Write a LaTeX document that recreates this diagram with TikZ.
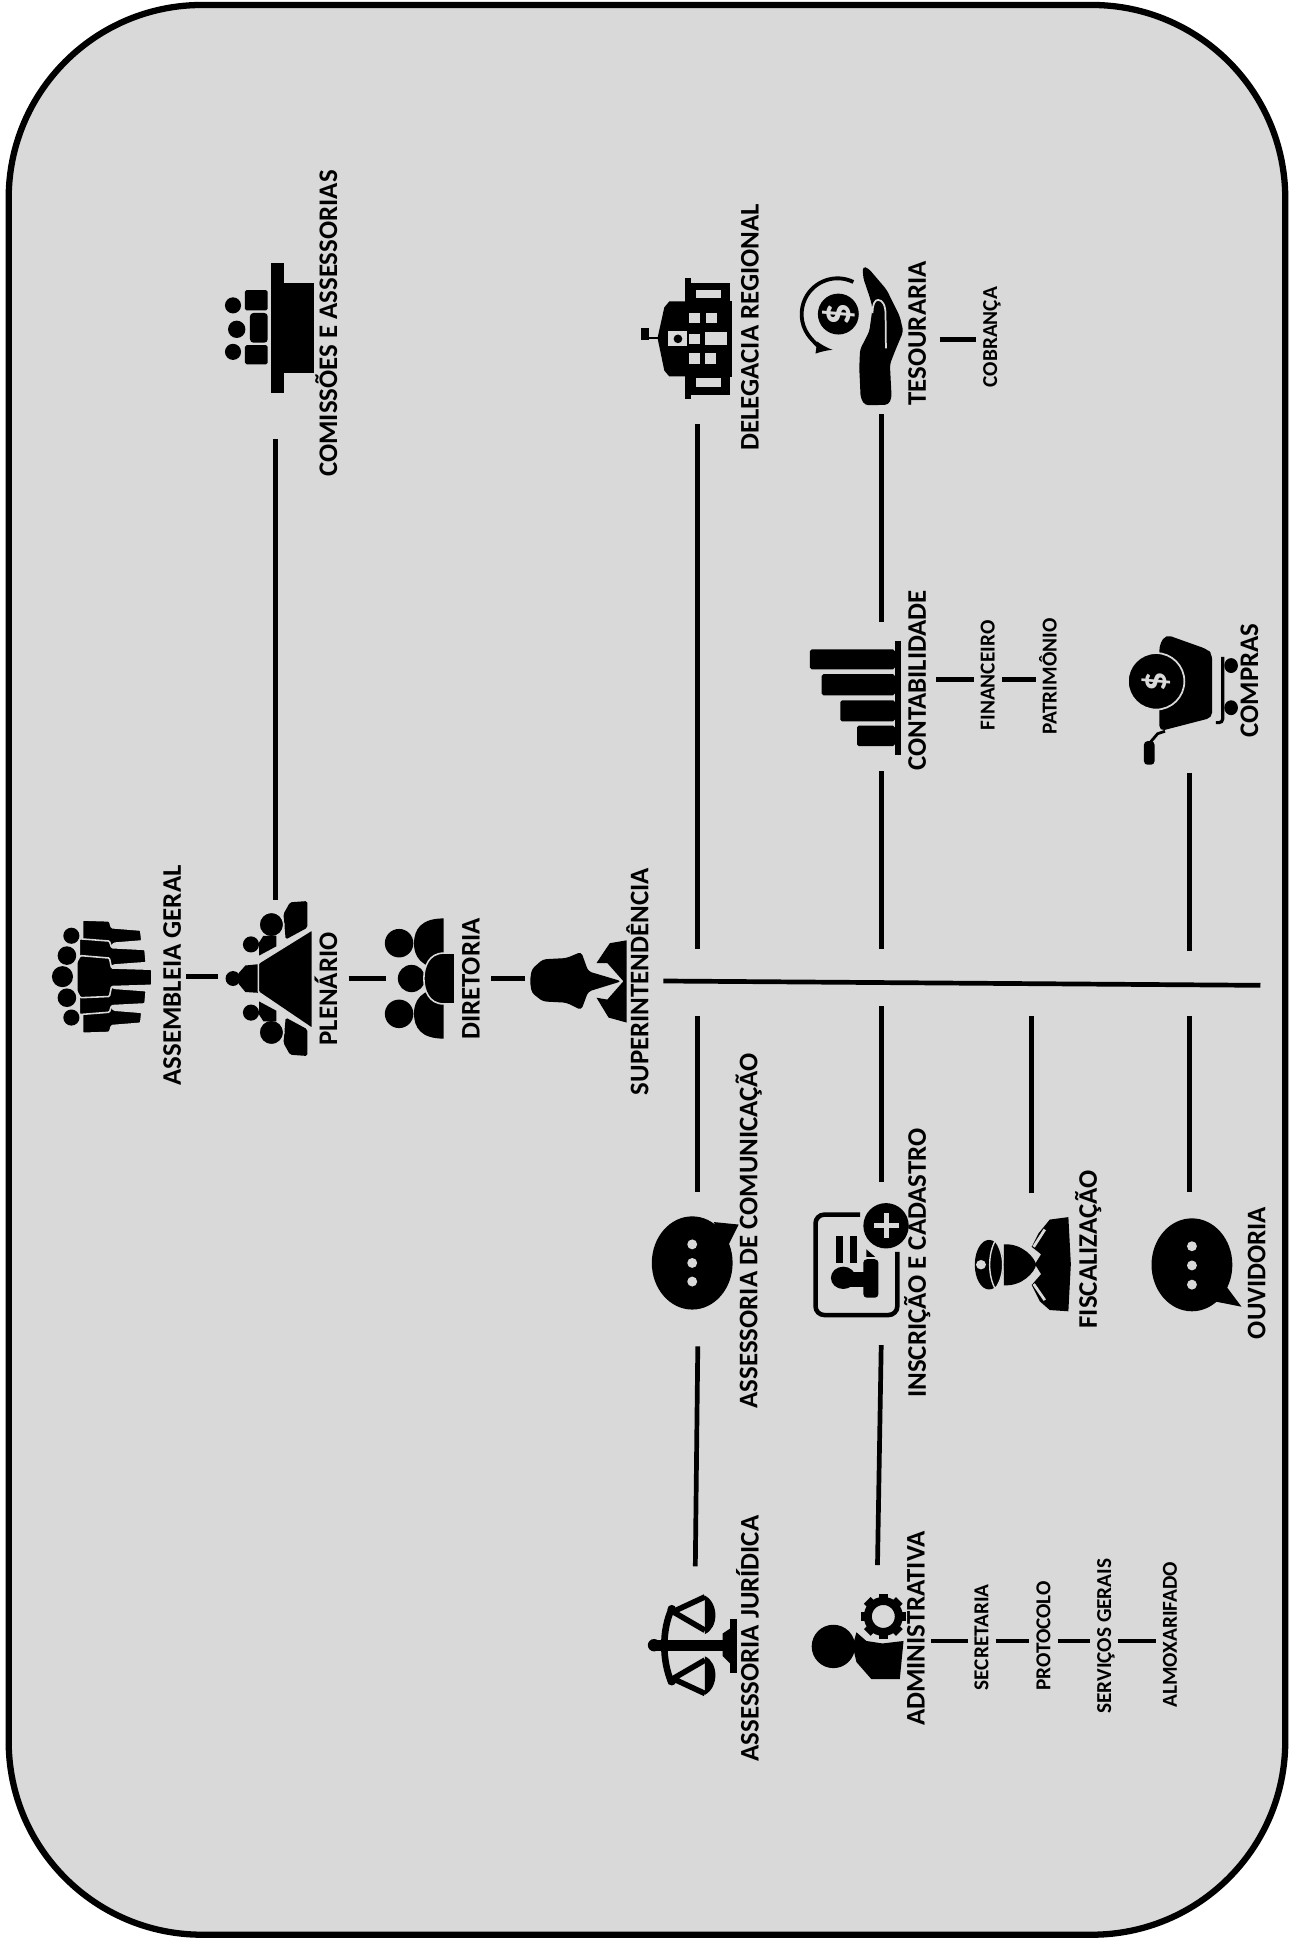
\documentclass[tikz,border=0pt]{standalone}
\usepackage{fontspec}
\setmainfont{Carlito}
\definecolor{fundo}{HTML}{D9D9D9}
\tikzset{
	moldura/.style={draw=black,fill=fundo,line width=3.6pt,rounded corners=3.9cm},
	linha/.style={draw=black,line width=2.7pt},
	caixa/.style 2 args={minimum width=#1*.025cm,minimum height=#2*.025cm,inner sep=0pt},
	rotulo/.style={rotate=90,inner xsep=0pt,inner ysep=0pt,text height=10pt,text depth=0pt,font=\bfseries\fontsize{15.4}{16}\selectfont},
	rotulop/.style={rotate=90,inner xsep=0pt,inner ysep=4pt,text height=7.8pt,text depth=0pt,font=\bfseries\fontsize{12.2}{12}\selectfont},
	preto/.style={fill=black},
	claro/.style={fill=fundo},
	recorte/.style={fill=black,draw=fundo,line width=.9pt,rounded corners=.6pt},
	traco/.style={draw=fundo,line width=1pt}
}
\begin{document}
\begin{tikzpicture}[x=.025cm,y=-.025cm]
	\useasboundingbox (0,0) rectangle (1040,1568.5);
	\draw[moldura] (7,4) rectangle (1037,1561);

	\node[caixa={108}{80}] (assembleia) at (96,788) {};
	\node[caixa={105}{126}] (plenario) at (228.5,789.5) {};
	\node[caixa={84}{98}] (diretoria) at (354,789.5) {};
	\node[caixa={111}{70}] (superint) at (479.5,791.5) {};
	\node[caixa={84}{142}] (comissoes) at (222,283) {};
	\node[caixa={80}{118}] (delegacia) at (563,283) {};
	\node[caixa={94}{120}] (tesouraria) at (711,274) {};
	\node[caixa={80}{120}] (contabilidade) at (711,562) {};
	\node[caixa={80}{111}] (compras) at (960,567.5) {};
	\node[caixa={80}{124}] (comunicacao) at (563,1024) {};
	\node[caixa={80}{131}] (inscricao) at (711,1019.5) {};
	\node[caixa={80}{100}] (fiscalizacao) at (832,1013) {};
	\node[caixa={80}{100}] (ouvidoria) at (960,1012) {};
	\node[caixa={80}{124}] (juridica) at (561,1326) {};
	\node[caixa={86}{122}] (administrativa) at (708,1324) {};

	\node[rotulo] (tAssembleia) at (139,787) {ASSEMBLEIA GERAL};
	\node[rotulo] (tPlenario) at (265,798) {PLENÁRIO};
	\node[rotulo] (tDiretoria) at (380,790) {DIRETORIA};
	\node[rotulo] (tSuperint) at (516,792) {SUPERINTENDÊNCIA};
	\node[rotulo] (tComissoes) at (265,261) {COMISSÕES E ASSESSORIAS};
	\node[rotulo] (tDelegacia) at (605,264) {DELEGACIA REGIONAL};
	\node[rotulo] (tTesouraria) at (740,269) {TESOURARIA};
	\node[rotulo] (tContabilidade) at (740,549) {CONTABILIDADE};
	\node[rotulo] (tCompras) at (1008,549) {COMPRAS};
	\node[rotulo] (tComunicacao) at (604,993) {ASSESSORIA DE COMUNICAÇÃO};
	\node[rotulo] (tInscricao) at (740,1019) {INSCRIÇÃO E CADASTRO};
	\node[rotulo] (tFiscalizacao) at (878,1008) {FISCALIZAÇÃO};
	\node[rotulo] (tOuvidoria) at (1014,1027) {OUVIDORIA};
	\node[rotulo] (tJuridica) at (605,1322) {ASSESSORIA JURÍDICA};
	\node[rotulo] (tAdministrativa) at (739,1314) {ADMINISTRATIVA};
	\node[rotulop] (cobranca) at (799,272) {COBRANÇA};
	\node[rotulop] (financeiro) at (797,545) {FINANCEIRO};
	\node[rotulop] (patrimonio) at (847,546) {PATRIMÔNIO};
	\node[rotulop] (secretaria) at (792,1321) {SECRETARIA};
	\node[rotulop] (protocolo) at (842,1320) {PROTOCOLO};
	\node[rotulop] (servicos) at (891,1320) {SERVIÇOS GERAIS};
	\node[rotulop] (almoxarifado) at (944,1319) {ALMOXARIFADO};

	\coordinate (fimEixo) at (1017,795);
	\coordinate (pDelegacia) at (563,766);
	\coordinate (pComunicacao) at (563,820);
	\coordinate (pContabilidade) at (711,766);
	\coordinate (pInscricao) at (711,812);
	\coordinate (pFiscalizacao) at (832,820);
	\coordinate (pCompras) at (960,767);
	\coordinate (pOuvidoria) at (960,820);
	\coordinate (lContabilidade) at (755,548);

	\draw[linha] (assembleia.east) -- (assembleia.east -| plenario.west);
	\draw[linha] (plenario.east) -- (diretoria.west);
	\draw[linha] (diretoria.east) -- (diretoria.east -| superint.west);
	\draw[linha] (superint.east) -- (fimEixo);
	\draw[linha] (comissoes.south) -- (comissoes.south |- plenario.north);
	\draw[linha] (delegacia.south) -- (pDelegacia);
	\draw[linha] (comunicacao.north) -- (pComunicacao);
	\draw[linha] (comunicacao.south) -- (juridica.north);
	\draw[linha] (tesouraria.south) -- (contabilidade.north);
	\draw[linha] (contabilidade.south) -- (pContabilidade);
	\draw[linha] (inscricao.north) -- (pInscricao);
	\draw[linha] (inscricao.south) -- (administrativa.north);
	\draw[linha] (fiscalizacao.north) -- (pFiscalizacao);
	\draw[linha] (compras.south) -- (pCompras);
	\draw[linha] (ouvidoria.north) -- (pOuvidoria);
	\draw[linha] (tesouraria.east) -- (tesouraria.east -| cobranca.north);
	\draw[linha] (lContabilidade) -- (lContabilidade -| financeiro.north);
	\draw[linha] (lContabilidade -| financeiro.south) -- (lContabilidade -| patrimonio.north);
	\draw[linha] (administrativa.east) -- (administrativa.east -| secretaria.north);
	\draw[linha] (administrativa.east -| secretaria.south) -- (administrativa.east -| protocolo.north);
	\draw[linha] (administrativa.east -| protocolo.south) -- (administrativa.east -| servicos.north);
	\draw[linha] (administrativa.east -| servicos.south) -- (administrativa.east -| almoxarifado.north);

	\foreach \s in {1,-1} {
		\begin{scope}[shift={(0,788)},yscale=\s]
			\fill[preto] (57.6,-33) circle[radius=6.5];
			\fill[preto] (54,-17) circle[radius=7.5];
			\draw[recorte] (66.6,-45.7) -- (88.3,-45) -- (90,-39.5) -- (113.5,-37.6) -- (114.5,-28.8) -- (92,-27) -- (86.5,-20.7) -- (66.6,-16.6) -- cycle;
			\draw[recorte] (64,-30.6) -- (88.3,-28.7) -- (90,-23.4) -- (117,-22) -- (118,-11.3) -- (92,-9.4) -- (86.5,-6) -- (64,-3) -- cycle;
		\end{scope}
	}
	\fill[preto] (50.4,788) circle[radius=8.5];
	\draw[recorte] (62,776) -- (64.8,771) -- (88.3,773) -- (90,781) -- (122.5,782) -- (122.5,795) -- (90,796) -- (88.3,804) -- (64.8,805) -- (62,800) -- cycle;

	\foreach \s in {1,-1} {
		\begin{scope}[shift={(0,789.5)},yscale=\s]
			\fill[preto,rounded corners=1pt] (228.7,-52) -- (234,-61.5) -- (248,-62.5) -- (248,-41) -- (230.5,-31.5) -- cycle;
			\draw[recorte] (219,-43.5) circle[radius=10];
			\fill[preto] (209,-18.5) -- (209,-29) -- (212.5,-34.5) -- (223,-34.5) -- (223,-26) -- cycle;
			\fill[preto] (202.5,-27.5) circle[radius=6.5];
		\end{scope}
	}
	\fill[preto] (188,789.5) circle[radius=6];
	\fill[preto] (192.7,785) -- (198,779) -- (208,778) -- (208,801) -- (198,800.4) -- (192.7,794) -- cycle;
	\draw[recorte] (208.5,777) -- (252,750) -- (252,830) -- (208.5,800.5) -- cycle;

	\foreach \s in {1,-1} {
		\begin{scope}[shift={(0,789.5)},yscale=\s]
			\fill[preto] (322,-28.5) circle[radius=11.5];
			\fill[preto] (358,-48.5) .. controls (340,-48.5) and (334,-40) .. (334,-28) .. controls (334,-18) and (340,-8) .. (358,-8) -- cycle;
		\end{scope}
	}
	\fill[preto] (332,789.5) circle[radius=11];
	\draw[fill=black,draw=fundo,line width=.9pt] (367,769) -- (358,769) .. controls (346,769) and (342,780) .. (342,789.5) .. controls (342,799) and (346,810) .. (358,810) -- (367,810) -- cycle;

	\fill[preto,rounded corners=2pt] (427.6,791.7) -- (429,782) -- (438,774) -- (457,773) -- (469,768) -- (474.6,783.7) -- (501.5,791.7) -- (474.6,800) -- (469,815) -- (457,809) -- (438,808) -- (429,801) -- cycle;
	\fill[preto] (505.5,758.7) -- (492,761) -- (481.3,777) -- (490,777) -- (503,791.7) -- (490,806.5) -- (481.3,805) -- (491,821) -- (505.5,825) -- cycle;

	\fill[preto] (219,212) rectangle (229,317);
	\fill[preto] (229,228.6) rectangle (253,301);
	\fill[preto,rounded corners=1pt] (197.6,234) rectangle (216,250.5);
	\fill[preto,rounded corners=1pt] (197.6,278.5) rectangle (216,294);
	\fill[preto,rounded corners=2pt] (201.7,252.5) -- (216,252.5) -- (216,276.5) -- (201.7,276.5) -- cycle;
	\fill[preto] (188,246.4) circle[radius=6.5];
	\fill[preto] (191,265.7) circle[radius=7];
	\fill[preto] (188,283.9) circle[radius=6.5];

	\fill[preto] (552.4,224.4) rectangle (557.7,322);
	\fill[preto] (557.7,228) rectangle (589,318.5);
	\fill[preto] (557.7,243) rectangle (591,304);
	\fill[preto] (553,243.2) -- (540,243.2) -- (536,248) -- (530.8,271.5) -- (530.8,274) -- (536,299) -- (540,303.7) -- (553,303.7) -- cycle;
	\fill[preto] (517.4,271.8) rectangle (531,273.8);
	\fill[preto] (517.4,264.7) rectangle (524,274);
	\foreach \xa/\ya/\xb/\yb in {561.8/233.8/582/240.5,555.8/252.7/564.5/260.7,569.3/252.7/578.4/260.7,568.8/268.2/586.5/278.5,555.8/269.3/565/277.4,555.8/285/565/293.5,568.8/285/578/293.5,561.8/305/582/312.3,539/267.4/554/279} {
		\fill[claro] (\xa,\ya) rectangle (\xb,\yb);
	}
	\fill[preto] (547,273.4) circle[radius=3.5];

	\fill[preto,rounded corners=2pt] (696,215) -- (700.6,216.4) -- (715.4,233.8) -- (726,255.3) -- (728.8,267.4) -- (722,283.6) -- (718,294) -- (719.4,321) -- (716.7,326.6) -- (697.9,327) -- (694.4,321) -- (693.3,297) -- (693.9,282) -- (701.4,267.4) -- (704,248.6) -- (702,240.5) -- (696.5,224.4) -- cycle;
	\draw[traco] (704,252.6) .. controls (704,245) and (706,242) .. (708.5,242) .. controls (712,242) and (714.5,246) .. (714.5,254) -- (714.8,281);
	\fill[preto] (676.4,253.4) circle[radius=16.5];
	\node[rotate=90,text=fundo,inner sep=0pt,font=\bfseries\fontsize{25}{25}\selectfont] (cifraoT) at (676.4,253.4) {\$};
	\draw[black,line width=2.2pt,-latex] (688.5,227.5) arc[start angle=-64,end angle=-262,radius=29];

	\fill[preto] (722,517) rectangle (727,609);
	\foreach \xa/\ya/\yb in {653.5/524/540,663/544/561,678/565/582,691.5/585.5/602} {
		\fill[preto,rounded corners=1pt] (\xa,\ya) rectangle (722,\yb);
	}

	\fill[preto,rounded corners=3pt] (935.5,520) -- (940.8,512) -- (974.4,524) -- (978,528) -- (978,579) -- (935.5,590) -- cycle;
	\draw[fill=black,draw=fundo,line width=1pt] (932.8,549.7) circle[radius=22.8];
	\node[rotate=90,text=fundo,inner sep=0pt,font=\bfseries\fontsize{22}{22}\selectfont] (cifraoC) at (932.8,549.7) {\$};
	\fill[preto] (993.3,537) ellipse[x radius=5.5,y radius=6];
	\fill[preto] (993.3,571) ellipse[x radius=5.5,y radius=6];
	\draw[black,line width=1.8pt,rounded corners=2pt] (986.5,530) -- (986.5,583) -- (981,583);
	\draw[black,line width=1.6pt] (940,590) -- (934,592) -- (928,599);
	\fill[preto,rounded corners=2pt] (923,598) rectangle (931.5,617);

	\fill[preto] (558.5,1019) ellipse[x radius=32.6,y radius=37.6];
	\fill[preto] (576,986) -- (596,988) -- (585,1010) -- cycle;
	\foreach \d in {1004,1019,1034} {\fill[claro] (558.5,\d) circle[radius=4];}

	\fill[preto] (961.7,1020.5) ellipse[x radius=32.6,y radius=37.5];
	\fill[preto] (985,1032) -- (1001.7,1054.3) -- (980,1050) -- cycle;
	\foreach \d in {1005.5,1021,1036.5} {\fill[claro] (961.7,\d) circle[radius=4];}

	\draw[black,line width=2.6pt,rounded corners=5pt] (694,980) -- (658,980) -- (658,1061) -- (724,1061) -- (724,1010);
	\fill[preto] (714.9,989) circle[radius=18.3];
	\fill[claro] (705,987) rectangle (725,991);
	\fill[claro] (712.9,979) rectangle (716.9,999);
	\fill[preto] (674.5,997.6) rectangle (680.5,1019);
	\fill[preto] (685.8,997.6) rectangle (691.7,1019);
	\fill[preto] (699,1008) -- (706,1014) -- (699,1014) -- cycle;
	\fill[preto] (680.4,1031) ellipse[x radius=10,y radius=9];
	\fill[preto] (685,1026) rectangle (698,1038);
	\fill[preto,rounded corners=2pt] (696.6,1016) rectangle (708.7,1047);

	\fill[preto] (798,1020.4) ellipse[x radius=11.5,y radius=20];
	\draw[traco,line width=.8pt] (803,1001) .. controls (797,1012) and (797,1029) .. (803,1040);
	\draw[traco,line width=.8pt] (803,1001) .. controls (811,1012) and (811,1029) .. (803,1040);
	\fill[claro] (791.5,1020.4) ellipse[x radius=4,y radius=3.8];
	\fill[preto] (810,1004) .. controls (825,1003) and (835,1015) .. (836,1020.4) .. controls (835,1026) and (825,1038) .. (810,1037) -- cycle;
	\fill[preto] (862,982) -- (847,984) -- (838,995) -- (832.4,1006) -- (840,1012) -- (835,1020) -- (840,1028) -- (832.4,1036.8) -- (839,1050) -- (847,1057) -- (862,1058) -- (864,1020) -- cycle;
	\draw[traco,line width=1.6pt] (843,992) -- (834,1006);
	\draw[traco,line width=1.6pt] (843,1049) -- (834,1036);

	\fill[preto] (672.4,1328.4) circle[radius=17.5];
	\fill[preto] (729,1324) -- (726,1354.7) -- (703,1354.7) -- (691,1341) -- (688,1328) -- (691,1317) -- (699,1324) -- (712,1326) -- cycle;
	\draw[black,line width=4.6pt] (712.7,1304.2) circle[radius=12.5];
	\foreach \a in {0,45,...,315} {
		\fill[preto,rotate around={\a:(712.7,1304.2)}] (726,1300.4) rectangle (731,1308);
	}

	\fill[preto] (527.7,1327.4) circle[radius=5];
	\fill[preto] (527.7,1323) rectangle (589,1332);
	\fill[preto] (589,1306) rectangle (595,1350);
	\fill[preto] (583,1318) -- (589,1314) -- (589,1342) -- (583,1336) -- cycle;
	\draw[black,line width=3.8pt] (542,1298) .. controls (534,1315) and (534,1340) .. (542,1358);
	\foreach \s in {1,-1} {
		\begin{scope}[shift={(0,1327.4)},yscale=\s]
			\draw[black,line width=3.2pt,line join=round] (568.8,-39) -- (543,-27) -- (568.8,-12);
			\fill[preto] (568.8,-40) .. controls (580,-34) and (580,-14) .. (568.8,-9) -- cycle;
			\fill[preto] (542,-29) circle[radius=3.5];
		\end{scope}
	}
\end{tikzpicture}
\end{document}
